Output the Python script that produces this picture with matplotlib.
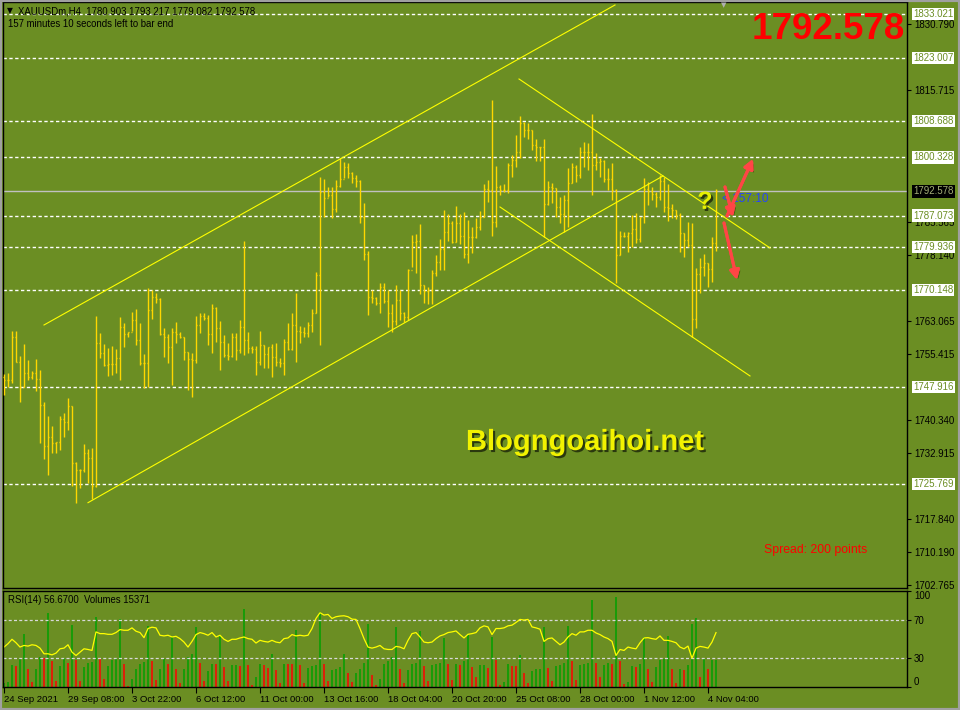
import matplotlib
matplotlib.use("Agg")
import matplotlib.pyplot as plt
import matplotlib.patheffects as pe
import numpy as np
from matplotlib.collections import LineCollection
from matplotlib.patches import Rectangle
from matplotlib.transforms import blended_transform_factory, offset_copy

# --- palette (MetaTrader "olive" scheme) ---
BG = "#6B8E23"
BAR = "#FFD700"
LINE = "#FFFF00"
BID = "#C0C0C0"
ARROW = "#FF4545"

# --- XAUUSDm H4 bars, 24 Sep 2021 .. 4 Nov 2021 ---
opens = [
    1750.2, 1749.6, 1749.6, 1759.4, 1753.7, 1748.0, 1751.2, 1750.2, 1751.2, 1749.8,
    1743.9, 1734.5, 1736.5, 1735.2, 1735.4, 1740.7, 1740.0, 1743.6, 1730.6, 1729.0,
    1729.0, 1732.9, 1731.7, 1725.4, 1758.0, 1755.7, 1753.0, 1753.2, 1753.2, 1754.6,
    1761.7, 1760.0, 1760.5, 1763.2, 1758.7, 1753.4, 1753.4, 1765.5, 1768.5, 1768.0,
    1760.0, 1759.4, 1757.1, 1760.5, 1760.0, 1759.4, 1755.9, 1754.3, 1754.1, 1762.1,
    1764.2, 1763.7, 1760.0, 1766.0, 1761.4, 1758.2, 1755.3, 1755.0, 1759.4, 1756.4,
    1761.6, 1758.7, 1756.9, 1756.6, 1753.7, 1757.5, 1755.5, 1757.1, 1754.8, 1753.7,
    1753.4, 1758.2, 1756.6, 1762.1, 1760.7, 1760.5, 1760.3, 1762.1, 1764.8, 1773.5,
    1792.5, 1791.1, 1791.8, 1788.6, 1793.8, 1795.4, 1798.2, 1796.8, 1795.6, 1795.0,
    1786.8, 1778.3, 1768.5, 1768.3, 1767.1, 1770.8, 1767.6, 1764.8, 1763.0, 1767.8,
    1764.8, 1763.9, 1774.7, 1781.0, 1781.3, 1771.2, 1769.9, 1770.1, 1774.0, 1776.5,
    1779.4, 1783.3, 1785.4, 1781.0, 1785.4, 1782.4, 1778.3, 1782.2, 1782.2, 1784.5,
    1786.8, 1793.1, 1792.9, 1785.6, 1793.6, 1792.9, 1792.9, 1798.6, 1799.8, 1801.6,
    1808.2, 1806.6, 1806.6, 1803.2, 1802.7, 1802.7, 1789.7, 1793.6, 1793.4, 1789.0,
    1787.4, 1790.6, 1794.5, 1798.2, 1796.3, 1801.6, 1801.6, 1801.6, 1798.6, 1799.3,
    1799.5, 1795.4, 1795.4, 1792.9, 1778.1, 1782.4, 1782.4, 1783.1, 1784.0, 1781.7,
    1786.8, 1793.1, 1792.7, 1792.0, 1791.3, 1795.0, 1789.0, 1788.8, 1788.3, 1787.2,
    1783.1, 1781.5, 1780.4, 1763.5, 1773.7, 1775.3, 1776.2, 1774.9, 1780.903,
]
highs = [
    1750.9, 1751.2, 1760.7, 1760.7, 1755.0, 1757.8, 1754.1, 1751.6, 1754.3, 1751.8,
    1744.5, 1741.3, 1739.0, 1735.4, 1741.3, 1742.0, 1745.4, 1743.6, 1730.8, 1729.2,
    1734.9, 1733.8, 1734.0, 1764.2, 1760.3, 1757.8, 1756.9, 1757.3, 1756.6, 1763.9,
    1762.6, 1760.5, 1765.1, 1765.8, 1762.6, 1755.5, 1770.5, 1770.1, 1769.4, 1768.3,
    1761.4, 1760.0, 1761.4, 1762.8, 1760.5, 1759.4, 1755.9, 1755.7, 1764.2, 1764.8,
    1764.8, 1764.4, 1766.9, 1766.2, 1763.0, 1759.8, 1758.0, 1760.3, 1760.3, 1763.2,
    1781.3, 1760.5, 1757.3, 1757.3, 1760.7, 1757.5, 1757.1, 1757.8, 1758.0, 1754.6,
    1758.9, 1762.6, 1764.8, 1769.4, 1761.9, 1761.6, 1762.8, 1765.8, 1774.2, 1795.9,
    1795.4, 1793.6, 1793.6, 1795.2, 1800.2, 1799.3, 1799.1, 1797.0, 1796.3, 1795.2,
    1790.0, 1779.0, 1770.1, 1768.5, 1771.7, 1771.7, 1770.1, 1766.9, 1771.2, 1770.1,
    1765.1, 1774.9, 1782.6, 1782.9, 1785.2, 1771.2, 1770.8, 1774.7, 1778.1, 1781.7,
    1788.3, 1787.4, 1785.8, 1789.3, 1787.4, 1787.9, 1786.1, 1784.5, 1786.5, 1788.1,
    1794.3, 1795.2, 1813.5, 1798.4, 1794.0, 1794.3, 1799.1, 1800.9, 1805.5, 1809.8,
    1808.4, 1808.2, 1806.6, 1804.6, 1802.7, 1804.6, 1795.0, 1794.5, 1793.4, 1791.3,
    1791.8, 1797.9, 1799.1, 1798.6, 1802.7, 1803.9, 1803.6, 1810.3, 1801.4, 1800.2,
    1799.8, 1797.9, 1799.1, 1793.1, 1783.5, 1783.3, 1783.3, 1787.2, 1787.7, 1786.8,
    1795.6, 1794.7, 1793.6, 1792.5, 1796.3, 1795.9, 1794.3, 1789.7, 1788.3, 1787.7,
    1783.1, 1785.6, 1785.4, 1775.1, 1777.4, 1778.3, 1776.2, 1782.2, 1793.217,
]
lows = [
    1746.1, 1748.0, 1748.9, 1753.7, 1744.5, 1748.0, 1749.6, 1749.8, 1747.0, 1735.2,
    1731.5, 1727.9, 1732.9, 1732.9, 1733.6, 1736.5, 1738.1, 1725.4, 1721.5, 1724.9,
    1728.6, 1726.0, 1722.4, 1725.2, 1754.6, 1752.7, 1750.5, 1750.7, 1751.2, 1749.6,
    1757.1, 1759.4, 1760.7, 1757.5, 1753.0, 1747.7, 1748.0, 1763.5, 1767.1, 1759.8,
    1754.8, 1753.4, 1748.4, 1758.0, 1759.1, 1754.1, 1747.3, 1745.7, 1753.4, 1760.3,
    1763.2, 1757.5, 1755.7, 1758.2, 1751.8, 1754.8, 1754.1, 1754.8, 1754.1, 1755.7,
    1755.3, 1755.7, 1755.7, 1750.7, 1753.0, 1752.3, 1752.3, 1750.2, 1752.7, 1752.5,
    1750.7, 1756.4, 1756.4, 1753.7, 1758.0, 1759.4, 1759.4, 1760.5, 1764.8, 1757.5,
    1786.7, 1791.3, 1786.5, 1787.9, 1793.6, 1795.6, 1795.6, 1794.5, 1793.6, 1785.4,
    1776.9, 1764.4, 1767.1, 1766.7, 1764.8, 1767.1, 1761.6, 1760.5, 1762.1, 1763.2,
    1762.8, 1763.2, 1775.3, 1774.0, 1769.2, 1767.1, 1766.9, 1766.9, 1773.3, 1774.7,
    1774.7, 1781.3, 1780.8, 1781.0, 1780.6, 1777.4, 1776.3, 1778.5, 1782.0, 1783.8,
    1786.8, 1790.2, 1782.4, 1784.5, 1791.8, 1792.5, 1792.2, 1795.9, 1798.2, 1800.2,
    1805.0, 1804.5, 1802.0, 1799.5, 1799.5, 1782.2, 1789.5, 1790.0, 1786.8, 1785.4,
    1783.3, 1784.5, 1794.5, 1794.7, 1795.6, 1798.2, 1797.5, 1791.8, 1797.5, 1795.9,
    1794.7, 1792.9, 1790.6, 1771.7, 1778.1, 1782.2, 1778.8, 1779.9, 1780.8, 1781.0,
    1785.4, 1789.5, 1790.6, 1789.0, 1790.6, 1787.9, 1785.8, 1786.5, 1786.3, 1778.8,
    1777.6, 1779.9, 1759.4, 1761.4, 1769.4, 1773.3, 1770.8, 1771.9, 1779.082,
]
closes = [
    1749.6, 1749.6, 1759.4, 1753.7, 1748.0, 1751.2, 1750.2, 1751.2, 1749.8, 1743.9,
    1734.5, 1736.5, 1735.2, 1735.4, 1740.7, 1740.0, 1743.6, 1730.6, 1729.0, 1729.0,
    1732.9, 1731.7, 1725.4, 1758.0, 1755.7, 1753.0, 1753.2, 1753.2, 1754.6, 1761.7,
    1760.0, 1760.5, 1763.2, 1758.7, 1753.4, 1753.4, 1765.5, 1768.5, 1768.0, 1760.0,
    1759.4, 1757.1, 1760.5, 1760.0, 1759.4, 1755.9, 1754.3, 1754.1, 1762.1, 1764.2,
    1763.7, 1760.0, 1766.0, 1761.4, 1758.2, 1755.3, 1755.0, 1759.4, 1756.4, 1761.6,
    1758.7, 1756.9, 1756.6, 1753.7, 1757.5, 1755.5, 1757.1, 1754.8, 1753.7, 1753.4,
    1758.2, 1756.6, 1762.1, 1760.7, 1760.5, 1760.3, 1762.1, 1764.8, 1773.5, 1792.5,
    1791.1, 1791.8, 1788.6, 1793.8, 1795.4, 1798.2, 1796.8, 1795.6, 1795.0, 1786.8,
    1778.3, 1768.5, 1768.3, 1767.1, 1770.8, 1767.6, 1764.8, 1763.0, 1767.8, 1764.8,
    1763.9, 1774.7, 1781.0, 1781.3, 1771.2, 1769.9, 1770.1, 1774.0, 1776.5, 1779.4,
    1783.3, 1785.4, 1781.0, 1785.4, 1782.4, 1778.3, 1782.2, 1782.2, 1784.5, 1786.8,
    1793.1, 1792.9, 1785.6, 1793.6, 1792.9, 1792.9, 1798.6, 1799.8, 1801.6, 1808.2,
    1806.6, 1806.6, 1803.2, 1802.7, 1802.7, 1789.7, 1793.6, 1793.4, 1789.0, 1787.4,
    1790.6, 1794.5, 1798.2, 1796.3, 1801.6, 1801.6, 1801.6, 1798.6, 1799.3, 1799.5,
    1795.4, 1795.4, 1792.9, 1778.1, 1782.4, 1782.4, 1783.1, 1784.0, 1781.7, 1786.8,
    1793.1, 1792.7, 1792.0, 1791.3, 1795.0, 1789.0, 1788.8, 1788.3, 1787.2, 1783.1,
    1781.5, 1780.4, 1763.5, 1773.7, 1775.3, 1776.2, 1774.9, 1780.8, 1792.578,
]
volumes = [
    2496, 2880, 12480, 12096, 16320, 30336, 10176, 2880, 10176, 17280,
    16704, 42624, 14784, 3264, 11904, 16704, 13824, 35520, 15360, 3264,
    11520, 14016, 14400, 40128, 16320, 4416, 11904, 15360, 16704, 38976,
    13248, 576, 4416, 10560, 13440, 14400, 34944, 14784, 3840, 10560,
    16320, 13056, 28800, 10560, 2304, 10176, 17280, 18816, 34368, 13824,
    3264, 9024, 13056, 13056, 29184, 11520, 3264, 12480, 12672, 11904,
    44736, 12480, 960, 5760, 13056, 12480, 10944, 18816, 9600, 2496,
    13440, 13056, 13056, 32640, 12480, 2496, 10944, 11904, 12480, 42816,
    13056, 3264, 9600, 10176, 11520, 19200, 8256, 2880, 8256, 10560,
    14016, 35904, 7104, 1344, 4416, 13056, 15168, 17280, 34560, 10560,
    2304, 9984, 13056, 13824, 32256, 12096, 3264, 12480, 13056, 14016,
    27840, 13056, 3840, 13056, 12480, 14784, 29760, 11520, 5760, 12480,
    12672, 10944, 28800, 15360, 1344, 2880, 13440, 12096, 11904, 18624,
    8064, 2304, 9024, 10176, 10560, 34560, 11136, 3264, 12096, 12480,
    14016, 34944, 14784, 3840, 12864, 13440, 13632, 49920, 13824, 5760,
    12864, 14016, 13440, 51456, 14784, 1536, 2880, 11904, 11520, 13440,
    28800, 10560, 2880, 11520, 15360, 16320, 29184, 10176, 2304, 10176,
    9600, 12480, 36096, 39744, 5760, 15936, 10176, 15360, 15371,
]
rsi = [
    41.6, 45.1, 49.7, 46.1, 41.6, 43.3, 42.6, 44.0, 43.3, 40.5,
    34.6, 34.6, 33.5, 35.3, 39.8, 40.5, 44.0, 36.3, 32.8, 36.3,
    39.8, 39.1, 38.1, 57.4, 55.6, 55.6, 54.9, 54.9, 56.7, 59.8,
    59.1, 59.1, 61.6, 58.1, 56.7, 51.4, 60.9, 62.3, 61.6, 53.9,
    53.2, 53.9, 52.1, 52.8, 50.4, 46.8, 41.6, 47.5, 54.6, 56.7,
    55.6, 53.9, 56.7, 52.1, 53.9, 49.7, 47.5, 49.7, 49.7, 51.1,
    52.1, 50.4, 49.7, 45.8, 48.6, 47.5, 46.8, 48.6, 46.8, 46.1,
    50.4, 51.1, 54.6, 53.2, 53.9, 53.2, 53.9, 60.9, 71.4, 77.4,
    74.9, 75.6, 71.4, 73.2, 73.9, 74.2, 73.2, 70.7, 70.4, 60.9,
    50.4, 41.6, 40.5, 41.6, 43.3, 39.8, 39.1, 39.1, 42.3, 41.6,
    39.8, 48.6, 55.6, 56.7, 52.1, 46.8, 46.1, 46.8, 50.4, 53.2,
    54.6, 56.7, 57.4, 58.4, 54.6, 51.1, 54.9, 55.6, 56.7, 61.6,
    63.7, 62.6, 54.6, 60.9, 60.9, 61.6, 63.7, 64.4, 67.2, 70.4,
    69.7, 70.4, 62.6, 61.6, 60.2, 47.5, 50.4, 51.1, 47.5, 44.0,
    46.8, 52.1, 55.6, 53.9, 57.4, 57.4, 59.1, 59.1, 56.3, 54.6,
    52.1, 50.4, 47.5, 32.8, 39.1, 38.1, 41.6, 40.5, 39.8, 46.1,
    51.1, 51.4, 50.4, 49.7, 53.2, 48.6, 48.6, 47.5, 46.1, 41.6,
    39.8, 42.6, 30.0, 40.5, 42.3, 41.6, 40.5, 46.8, 56.67,
]

date_labels = ["24 Sep 2021", "29 Sep 08:00", "3 Oct 22:00", "6 Oct 12:00",
               "11 Oct 00:00", "13 Oct 16:00", "18 Oct 04:00", "20 Oct 20:00",
               "25 Oct 08:00", "28 Oct 00:00", "1 Nov 12:00", "4 Nov 04:00"]
BARS_PER_LABEL = 16

# price-scale labels that are not covered by a line label
price_ticks = [1830.790, 1815.715, 1785.565, 1778.140, 1763.065, 1755.415,
               1740.340, 1732.915, 1717.840, 1710.190, 1702.765]
hline_levels = [1833.021, 1823.007, 1808.688, 1800.328, 1787.073, 1779.936,
                1770.148, 1747.916, 1725.769]

# trend lines: ((bar, price), (bar, price))
trend_lines = [
    ((10.0, 1762.10), (152.75, 1835.13)),   # rising channel, upper
    ((21.0, 1721.55), (164.75, 1796.11)),   # rising channel, lower
    ((128.75, 1818.24), (191.5, 1779.68)),  # falling channel, upper
    ((124.0, 1789.03), (186.5, 1750.47)),   # falling channel, lower
]
# scenario arrows: (tail, head)
arrows = [
    ((180.25, 1793.6), (182.25, 1786.75)),
    ((180.75, 1786.98), (187.25, 1800.0)),
    ((180.0, 1785.38), (183.25, 1772.37)),
]

plt.rcParams["font.family"] = ["Liberation Sans", "DejaVu Sans"]

W, H = 960, 710
fig = plt.figure(figsize=(W / 100, H / 100), dpi=100, facecolor=BG)


def px_axes(x0, y0, x1, y1):
    return fig.add_axes([x0 / W, 1 - y1 / H, (x1 - x0) / W, (y1 - y0) / H])


ax = px_axes(3, 2, 907, 588)
rx = px_axes(3, 591, 907, 687)
for a in (ax, rx):
    a.set_facecolor(BG)
    for s in a.spines.values():
        s.set_color("black")
        s.set_linewidth(1.0)
    a.set_xlim(-0.25, 225.75)

n = len(closes)
idx = np.arange(n)

# --- main price window ---
ax.set_ylim(1702.08, 1835.81)
segs = []
for i, (o, h, l, c) in enumerate(zip(opens, highs, lows, closes)):
    segs += [[(i, l), (i, h)], [(i - 0.35, o), (i, o)], [(i, c), (i + 0.35, c)]]
ax.add_collection(LineCollection(segs, colors=BAR, linewidths=1.0, zorder=3))

for lvl in hline_levels:
    ax.axhline(lvl, color="white", lw=1.0, ls=(0, (2.4, 1.8)), zorder=2)
ax.axhline(closes[-1], color=BID, lw=1.0, zorder=2)

for (x0, y0), (x1, y1) in trend_lines:
    ax.plot([x0, x1], [y0, y1], color=LINE, lw=0.8, zorder=4)

ax.yaxis.tick_right()
ax.set_yticks(price_ticks)
ax.set_yticklabels([f"{v:.3f}" for v in price_ticks])
ax.tick_params(axis="y", length=3, width=0.8, colors="black", labelsize=7, pad=2)
ax.set_xticks([])

trans = offset_copy(blended_transform_factory(ax.transAxes, ax.transData),
                    fig=fig, x=6, y=0, units="dots")
for lvl in hline_levels:
    ax.text(1.0, lvl, f"{lvl:.3f}", transform=trans, fontsize=7, color=BG,
            ha="left", va="center", clip_on=False, zorder=6,
            bbox=dict(boxstyle="square,pad=0.12", fc="white", ec="none"))
ax.text(1.0, closes[-1], f"{closes[-1]:.3f}", transform=trans, fontsize=7,
        color="#A4AE78", ha="left", va="center", clip_on=False, zorder=6,
        bbox=dict(boxstyle="square,pad=0.12", fc="black", ec="none"))

# annotations on the chart
shadow = [pe.withSimplePatchShadow(offset=(1.5, -1.5), shadow_rgbFace="black", alpha=0.6)]
ax.text(145.25, 1735.4, "Blogngoaihoi.net", color="#F2F200", fontsize=21,
        fontweight="bold", ha="center", va="center", zorder=5, path_effects=shadow)
ax.text(175.25, 1790.2, "?", color="#E6F000", fontsize=18, fontweight="bold",
        ha="center", va="center", zorder=5, path_effects=shadow)
ax.text(179.5, 1790.9, "< 157:10", color="#2444FF", fontsize=8.5,
        ha="left", va="center", zorder=5)
for tail, head in arrows:
    an = ax.annotate("", xy=head, xytext=tail, zorder=7,
                     arrowprops=dict(arrowstyle="-|>,head_length=0.55,head_width=0.28",
                                     color=ARROW, lw=2.2, shrinkA=0, shrinkB=0))
    an.arrow_patch.set_path_effects(
        [pe.withSimplePatchShadow(offset=(1.5, -1.5), shadow_rgbFace="#203000", alpha=0.5),
         pe.Normal()])

# --- RSI + Volumes window ---
rx.set_ylim(0, 100)
vx = rx.twinx()
vx.set_xlim(rx.get_xlim())
vol_colors = ["#00A000"] + ["#00A000" if volumes[i] > volumes[i - 1] else "#FF0000"
                            for i in range(1, n)]
vx.vlines(idx, 0, volumes, colors=vol_colors, lw=1.1)
vx.set_ylim(0, max(volumes) * 1.07)
vx.set_yticks([])
for s in vx.spines.values():
    s.set_visible(False)
rx.set_zorder(vx.get_zorder() + 1)
rx.patch.set_visible(False)
vx.patch.set_visible(False)

for lvl in (70, 30):
    rx.axhline(lvl, color="#D8D8D8", lw=0.9, ls=(0, (2.4, 1.8)))
rx.plot(idx, rsi, color=LINE, lw=0.9)

rx.yaxis.tick_right()
rx.set_yticks([0, 30, 70, 100])
labels = rx.set_yticklabels(["0", "30", "70", "100"])
labels[0].set_va("bottom")
labels[3].set_va("top")
rx.tick_params(axis="y", length=3, width=0.8, colors="black", labelsize=7, pad=2)

rx.set_xticks(np.arange(len(date_labels)) * BARS_PER_LABEL)
xl = rx.set_xticklabels(date_labels)
for t in xl:
    t.set_ha("left")
rx.tick_params(axis="x", length=4, width=0.8, colors="black", labelsize=6.8, pad=1.5)

# --- header texts ---
fig.text(10 / W, 1 - 11 / H, "▼", fontsize=5.5, color="black", ha="center", va="center",
         family="DejaVu Sans")
fig.text(18 / W, 1 - 11 / H,
         f"XAUUSDm,H4  {opens[-1]:.3f} {highs[-1]:.3f} {lows[-1]:.3f} {closes[-1]:.3f}",
         fontsize=6.9, color="black", va="center")
fig.text(8 / W, 1 - 24 / H, "157 minutes 10 seconds left to bar end",
         fontsize=6.9, color="black", va="center")
fig.text(905 / W, 1 - 39 / H, f"{closes[-1]:.3f}", color="#FF0000", fontsize=26.5,
         fontweight="bold", ha="right", va="baseline")
fig.text(764 / W, 1 - 550 / H, "Spread: 200 points", color="#FF0000", fontsize=8.8,
         va="center")
fig.text(8 / W, 1 - 600 / H, f"RSI(14) {rsi[-1]:.4f}  Volumes {volumes[-1]}",
         fontsize=6.9, color="black", va="center")
fig.text(724 / W, 1 - 5 / H, "▼", fontsize=5, color="#B0B0B0", ha="center", va="center",
         family="DejaVu Sans")

fig.add_artist(Rectangle((0, 0), 1, 1, transform=fig.transFigure, fill=False,
                         edgecolor="#A0A0A0", lw=3))

fig.savefig("out.png", dpi=100, facecolor=BG)
